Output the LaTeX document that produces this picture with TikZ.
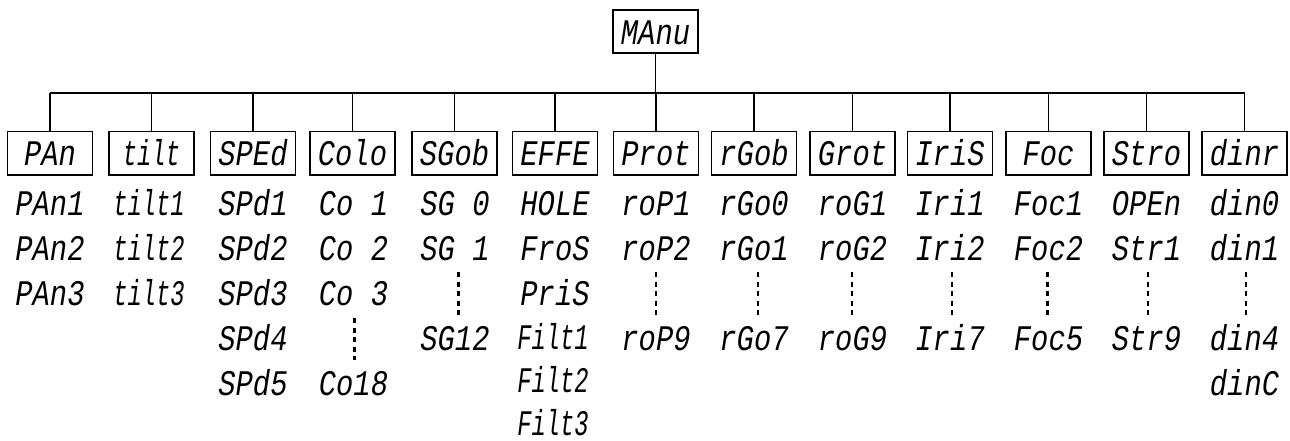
\documentclass[tikz,border=0pt]{standalone}
\usepackage{fontspec}
\newfontfamily\segfont[FakeStretch=0.8]{Liberation Mono}
\newfontfamily\segnarrow[FakeStretch=0.66]{Liberation Mono}
\begin{document}
\begin{tikzpicture}[x=1pt,y=-1pt,
  segtext/.style={font=\segfont\itshape\fontsize{36}{40}\selectfont},
  narrowtext/.style={font=\segnarrow\itshape\fontsize{36}{40}\selectfont},
  menubox/.style={draw, line width=1.9pt, minimum width=85pt, minimum height=43.5pt,
    inner sep=0pt, text height=25pt, text depth=0pt, segtext},
  item/.style={inner sep=0pt, anchor=base, text depth=0pt, segtext},
  nitem/.style={inner sep=0pt, anchor=base, text depth=0pt, narrowtext},
  link/.style={line width=1.6pt},
  busline/.style={line width=2.4pt},
  dotline/.style={line width=1.8pt, dash pattern=on 5pt off 4.5pt},
  dotthick/.style={line width=2.6pt, dash pattern=on 5pt off 4.5pt}]
\useasboundingbox (0,0) rectangle (1290,441);

% root
\node[menubox] (manu) at (655.5,31.7) {MAnu};
\coordinate (bus) at (0,93);

% first-level boxes
\foreach \n/\x/\t in {pan/50/PAn, sped/253/SPEd, colo/352.5/Colo, sgob/454.5/SGob,
  effe/555/EFFE, prot/656/Prot, rgob/754/rGob, grot/852.5/Grot, iris/950/IriS,
  foc/1048.5/Foc, stro/1146.5/Stro, dinr/1244.5/dinr}
  \node[menubox] (\n) at (\x,153.3) {\t};
\node[menubox, narrowtext] (tilt) at (151.5,153.3) {tilt};

% connectors
\draw[link] (manu.south) -- (manu.south |- bus);
\draw[busline] (pan.north |- bus) -- (dinr.north |- bus);
\foreach \n in {pan,tilt,sped,colo,sgob,effe,prot,rgob,grot,iris,foc,stro,dinr}
  \draw[link] (\n.north) -- (\n.north |- bus);

% list items (baseline of row r at 170+45r)
\foreach \n/\x/\r/\t in {
  pan1/50/1/PAn1, pan2/50/2/PAn2, pan3/50/3/PAn3,
  spd1/253/1/SPd1, spd2/253/2/SPd2, spd3/253/3/SPd3, spd4/253/4/SPd4, spd5/253/5/SPd5,
  co1/353.5/1/Co 1, co2/353.5/2/Co 2, co3/353.5/3/Co 3, co18/353.5/5/Co18,
  sg0/455/1/SG 0, sg1/455/2/SG 1, sg12/455/4/SG12,
  hole/555/1/HOLE, fros/555/2/FroS, pris/555/3/PriS,
  rop1/656/1/roP1, rop2/656/2/roP2, rop9/656/4/roP9,
  rgo0/754/1/rGo0, rgo1/754/2/rGo1, rgo7/754/4/rGo7,
  rog1/852.5/1/roG1, rog2/852.5/2/roG2, rog9/852.5/4/roG9,
  iri1/950/1/Iri1, iri2/950/2/Iri2, iri7/950/4/Iri7,
  foc1/1048.5/1/Foc1, foc2/1048.5/2/Foc2, foc5/1048.5/4/Foc5,
  open/1146.5/1/OPEn, str1/1146.5/2/Str1, str9/1146.5/4/Str9,
  din0/1244.5/1/din0, din1/1244.5/2/din1, din4/1244.5/4/din4, dinc/1244.5/5/dinC}
  \node[item] (\n) at (\x,170+45*\r) {\t};
\foreach \n/\x/\y/\t in {
  tilt1/149/215/tilt1, tilt2/149/260/tilt2, tilt3/149/305/tilt3,
  filt1/553/349/Filt1, filt2/553/392.5/Filt2, filt3/553/435/Filt3}
  \node[nitem] (\n) at (\x,\y) {\t};

% ellipsis dashes
\foreach \n/\x/\ya/\yb/\s in {colo/354.3/318/360/dotthick, sgob/458.3/272/315/dotthick,
  prot/656/272/315/dotline, rgob/758.3/272/315/dotline, grot/852.3/272/315/dotline,
  iris/951.7/272/315/dotline, foc/1047.3/272/315/dotthick, stro/1147.7/272/315/dotline,
  dinr/1245.7/272/315/dotline}
{
  \coordinate (\n-dtop) at (\x,\ya);
  \coordinate (\n-dbot) at (\x,\yb);
  \draw[\s] (\n-dtop) -- (\n-dbot);
}
\end{tikzpicture}
\end{document}
